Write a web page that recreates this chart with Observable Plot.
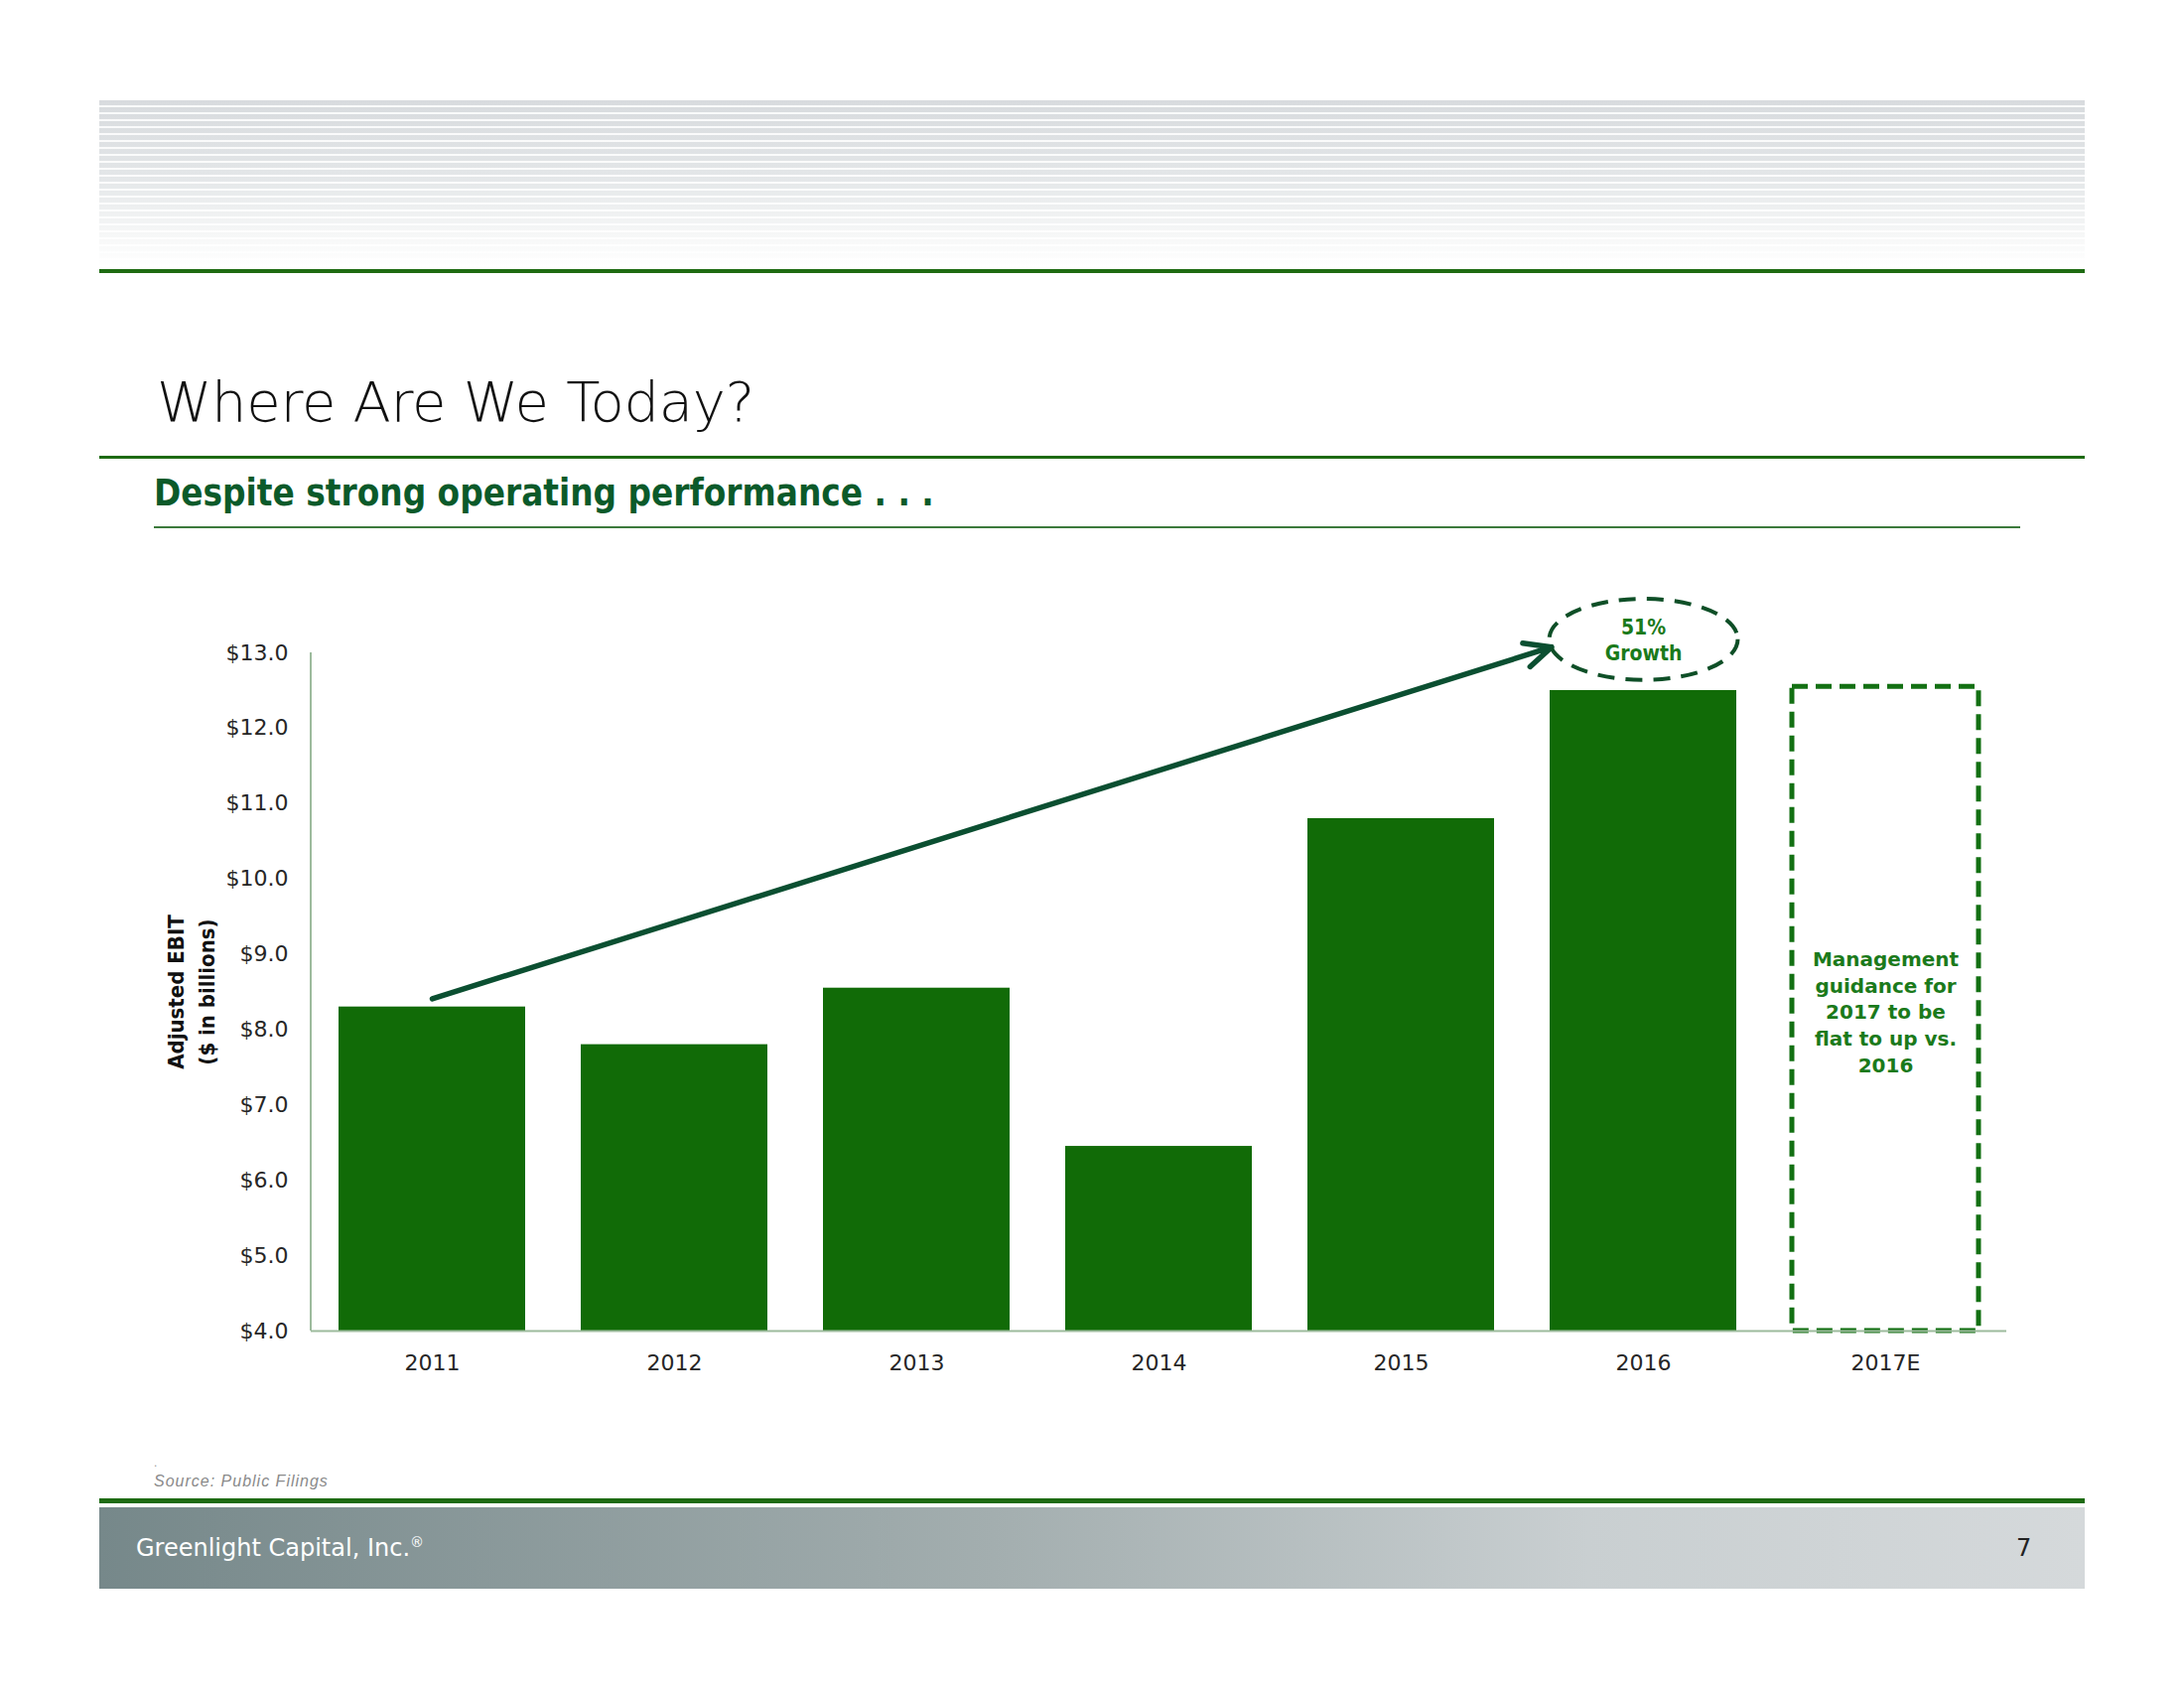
<!DOCTYPE html>
<html>
<head>
<meta charset="utf-8">
<script src="https://cdn.jsdelivr.net/npm/d3@7"></script>
<script src="https://cdn.jsdelivr.net/npm/@observablehq/plot@0.6"></script>
<style>
  html, body { margin: 0; padding: 0; background: #fff; }
  body { width: 2200px; height: 1700px; position: relative; overflow: hidden; font-family: "DejaVu Sans", sans-serif; }
  .abs { position: absolute; }
  #headband { left: 100px; top: 101px; width: 2000px; height: 168px;
    background:
      repeating-linear-gradient(to bottom, rgba(255,255,255,0) 0px, rgba(255,255,255,0) 5px, rgba(255,255,255,0.85) 5px, rgba(255,255,255,0.85) 7px),
      linear-gradient(to bottom, #d8dbde 0%, #e3e6e8 45%, #f6f7f7 80%, #ffffff 100%); }
  #headline { left: 100px; top: 271px; width: 2000px; height: 4px; background: #1e6b12; }
  #title { left: 158px; top: 377px; font-size: 56px; line-height: 1; font-weight: 200; color: #111; letter-spacing: -0.3px; white-space: nowrap; }
  #titleline { left: 100px; top: 459px; width: 2000px; height: 3px; background: #1e6b12; }
  #subtitle { left: 155px; top: 479px; font-family: "DejaVu Sans Condensed", "DejaVu Sans", sans-serif; font-stretch: condensed; font-weight: bold; font-size: 36.5px; line-height: 1; color: #0b5a2a; white-space: nowrap; }
  #subline { left: 155px; top: 530px; width: 1880px; height: 1.5px; background: #3c7a3c; }
  #chart { left: 0px; top: 560px; }
  #dot { left: 155px; top: 1466px; font-family: "Liberation Sans", sans-serif; font-size: 12px; color: #999; }
  #source { left: 155px; top: 1484px; font-family: "Liberation Sans", sans-serif; font-style: italic; font-size: 16px; letter-spacing: 1px; line-height: 1; color: #8a8a8a; white-space: nowrap; }
  #footline { left: 100px; top: 1509px; width: 2000px; height: 5px; background: #1e6b12; }
  #footband { left: 100px; top: 1518px; width: 2000px; height: 82px; background: linear-gradient(to right, #76888a 0%, #a3aeaf 45%, #c9cfd1 75%, #d5d9db 100%); }
  #foottext { left: 137px; top: 1546px; font-size: 24px; line-height: 1; color: #fff; white-space: nowrap; }
  #foottext sup { font-size: 14px; }
  #pagenum { left: 2031px; top: 1547px; font-size: 24px; line-height: 1; color: #222; }
</style>
</head>
<body>
<div id="headband" class="abs"></div>
<div id="headline" class="abs"></div>
<div id="title" class="abs">Where Are We Today?</div>
<div id="titleline" class="abs"></div>
<div id="subtitle" class="abs">Despite strong operating performance . . .</div>
<div id="subline" class="abs"></div>
<div id="chart" class="abs"></div>
<div id="dot" class="abs">.</div>
<div id="source" class="abs">Source: Public Filings</div>
<div id="footline" class="abs"></div>
<div id="footband" class="abs"></div>
<div id="foottext" class="abs">Greenlight Capital, Inc.<sup>®</sup></div>
<div id="pagenum" class="abs">7</div>
<script>
// ---- Data ----
const years = ["2011", "2012", "2013", "2014", "2015", "2016", "2017E"];
const actualYears = ["2011", "2012", "2013", "2014", "2015", "2016"];
const adjustedEbit = [8.3, 7.8, 8.55, 6.45, 10.8, 12.5]; // $ billions
const estimateYear = ["2017E"];
const estimateTop = [12.55];
const yTicks = [4, 5, 6, 7, 8, 9, 10, 11, 12, 13];
const yAxisTitle = ["Adjusted EBIT\n($ in billions)"];
const growthLabel = ["51%\nGrowth"];
const growthYear = ["2016"];
const growthLabelY = [13.18];
const arrowFromYear = ["2011"];
const arrowFromValue = [8.41];
const arrowToYear = ["2016"];
const arrowToValue = [13.46];
const guidanceNote = ["Management\nguidance for\n2017 to be\nflat to up vs.\n2016"];
const guidanceY = [8.25];
const yBase = 4;

// ---- Tables built from arrays ----
const bars = actualYears.map((yr, i) => ({year: yr, value: adjustedEbit[i]}));
const estimate = estimateYear.map((yr, i) => ({year: yr, top: estimateTop[i]}));
const arrows = arrowFromYear.map((yr, i) => ({x1: yr, y1: arrowFromValue[i], x2: arrowToYear[i], y2: arrowToValue[i]}));
const growth = growthYear.map((yr, i) => ({year: yr, y: growthLabelY[i], text: growthLabel[i]}));
const guidance = estimateYear.map((yr, i) => ({year: yr, y: guidanceY[i], text: guidanceNote[i]}));

// Ellipse symbol (wide, flat)
const ellipseSymbol = {
  draw(context, size) {
    const rx = Math.sqrt(size / Math.PI);
    const ry = rx * 0.43;
    const k = 0.5523;
    context.moveTo(rx, 0);
    context.bezierCurveTo(rx, ry * k, rx * k, ry, 0, ry);
    context.bezierCurveTo(-rx * k, ry, -rx, ry * k, -rx, 0);
    context.bezierCurveTo(-rx, -ry * k, -rx * k, -ry, 0, -ry);
    context.bezierCurveTo(rx * k, -ry, rx, -ry * k, rx, 0);
    context.closePath();
  }
};

const axisColor = "#9dbb9d";

const yAxisLine = (index, scales, values, dimensions) => {
  const {marginLeft, marginTop, height, marginBottom} = dimensions;
  const line = document.createElementNS("http://www.w3.org/2000/svg", "line");
  line.setAttribute("x1", marginLeft);
  line.setAttribute("x2", marginLeft);
  line.setAttribute("y1", marginTop);
  line.setAttribute("y2", height - marginBottom);
  line.setAttribute("stroke", axisColor);
  line.setAttribute("stroke-width", 2);
  return line;
};

const chart = Plot.plot({
  width: 2200,
  height: 830,
  marginLeft: 313,
  marginRight: 179,
  marginTop: 97,
  marginBottom: 50,
  style: {fontFamily: "DejaVu Sans, sans-serif", fontSize: "22px", color: "#262626", background: "transparent", overflow: "visible"},
  x: {domain: years, paddingInner: 0.23, paddingOuter: 0.115, label: null, tickSize: 0, tickPadding: 24},
  y: {domain: [4, 13], ticks: yTicks, tickFormat: d => "$" + d.toFixed(1), label: null, tickSize: 0, tickPadding: 23},
  marks: [
    Plot.barY(bars, {x: "year", y1: yBase, y2: "value", fill: "#116b07"}),
    Plot.barY(estimate, {x: "year", y1: yBase, y2: "top", fill: "none", stroke: "#137013", strokeWidth: 5, strokeDasharray: "16,8"}),
    Plot.ruleY([yBase], {stroke: axisColor, strokeWidth: 2}),
    yAxisLine,
    Plot.arrow(arrows, {x1: "x1", y1: "y1", x2: "x2", y2: "y2", insetEnd: 97, stroke: "#0b4f31", strokeWidth: 5.5, headLength: 8, headAngle: 50}),
    Plot.dot(growth, {x: "year", y: "y", r: 95, symbol: ellipseSymbol, stroke: "#0e4f27", strokeWidth: 4, strokeDasharray: "17,11", fill: "none"}),
    Plot.text(growth, {x: "year", y: "y", text: "text", fontSize: 21, fontWeight: 600, lineHeight: 1.25, fill: "#1b7a1b", fontFamily: "DejaVu Sans Condensed, DejaVu Sans, sans-serif"}),
    Plot.text(guidance, {x: "year", y: "y", text: "text", fontSize: 20, fontWeight: "bold", lineHeight: 1.33, fill: "#1b7a1b"}),
    Plot.text(yAxisTitle, {frameAnchor: "left", textAnchor: "middle", rotate: -90, dx: -123, text: d => d, fontSize: 22, fontWeight: "bold", lineHeight: 1.4, fill: "#111", fontFamily: "DejaVu Sans Condensed, DejaVu Sans, sans-serif"})
  ]
});
document.getElementById("chart").appendChild(chart);
</script>
</body>
</html>
